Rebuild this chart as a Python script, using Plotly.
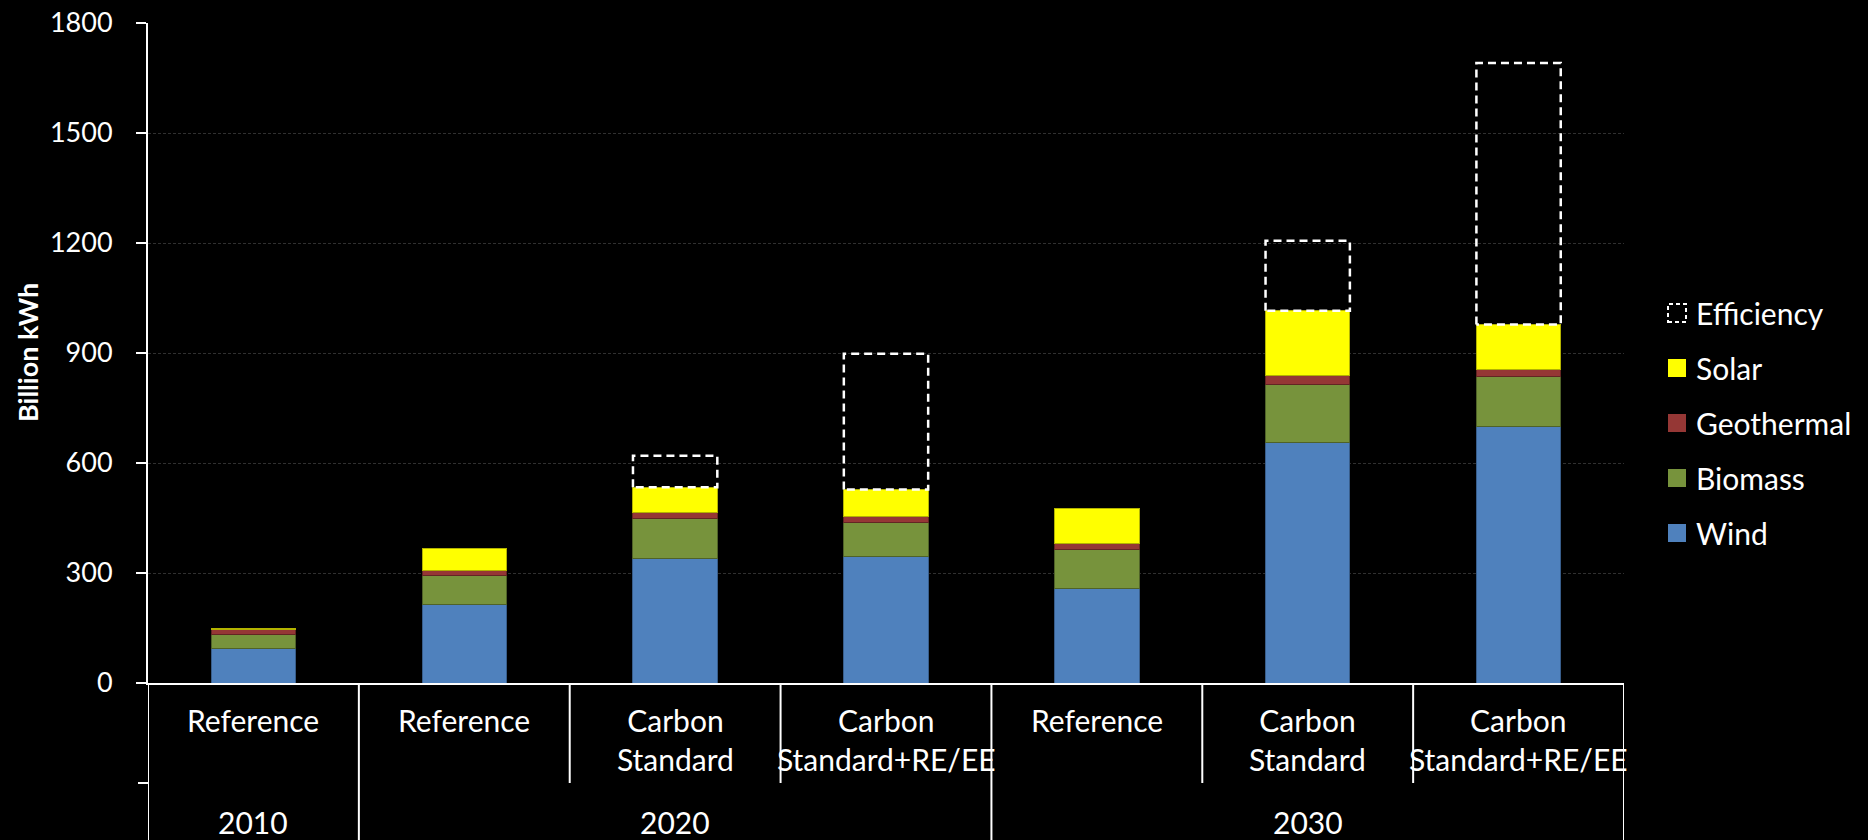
import numpy as np
import plotly.graph_objects as go

# Scenario categories (two-level: scenario within year)
scenarios = ["Reference", "Reference", "Carbon<br>Standard", "Carbon<br>Standard+RE/EE",
             "Reference", "Carbon<br>Standard", "Carbon<br>Standard+RE/EE"]
years = ["2010", "2020", "2030"]
year_groups = [[0], [1, 2, 3], [4, 5, 6]]

# Generation by source, billion kWh
wind = [94, 215, 340, 344, 258, 655, 699]
biomass = [37, 78, 108, 93, 105, 159, 136]
geothermal = [14, 15, 18, 17, 17, 24, 20]
solar = [4, 59, 68, 74, 97, 177, 123]
efficiency = [0, 0, 86, 370, 0, 191, 713]

y_ticks = [0, 300, 600, 900, 1200, 1500, 1800]

series = [
    ("Wind", wind, "#4F81BD", "#385D8A"),
    ("Biomass", biomass, "#77933C", "#4F6228"),
    ("Geothermal", geothermal, "#953735", "#632523"),
    ("Solar", solar, "#FFFF00", "#B3B300"),
]

FONT = "Lato"
W, H = 1868, 840
PLOT_L, PLOT_R, PLOT_T, PLOT_B = 148, 1624, 23, 683
BAR_W = 0.4


def px_x(px):
    return (px - PLOT_L) / (PLOT_R - PLOT_L)


def px_y(py):
    return (PLOT_B - py) / (PLOT_B - PLOT_T)


idx = np.arange(len(scenarios))
fig = go.Figure()

for name, vals, color, edge in series:
    fig.add_trace(go.Bar(
        x=idx, y=vals, name=name, width=BAR_W,
        marker=dict(color=color, line=dict(color=edge, width=1)),
        showlegend=False,
    ))

# Efficiency savings drawn as dashed outlines stacked on top of the supply bars
supply_total = np.sum([wind, biomass, geothermal, solar], axis=0)
ex, ey = [], []
for i, (base, eff) in enumerate(zip(supply_total, efficiency)):
    if eff <= 0:
        continue
    x0, x1 = i - BAR_W / 2, i + BAR_W / 2
    top = base + eff
    ex += [x0, x0, x1, x1, x0, None]
    ey += [base, top, top, base, base, None]
fig.add_trace(go.Scatter(
    x=ex, y=ey, mode="lines", name="Efficiency",
    line=dict(color="white", width=2.5, dash="8px,5px"),
    showlegend=False, hoverinfo="skip",
))

shapes = []
annotations = []

# Category axis separators: short between scenarios, full-height between year groups
group_edges = {-0.5, len(scenarios) - 0.5}
for g in year_groups:
    group_edges.add(g[0] - 0.5)
    group_edges.add(g[-1] + 0.5)
for b in np.arange(-0.5, len(scenarios), 1.0):
    y_end = px_y(H) if b in group_edges else px_y(783)
    shapes.append(dict(type="line", xref="x", yref="paper", x0=b, x1=b,
                       y0=0, y1=y_end, line=dict(color="white", width=2)))
shapes.append(dict(type="line", xref="paper", yref="paper", x0=px_x(138), x1=0,
                   y0=px_y(783), y1=px_y(783), line=dict(color="white", width=2)))

for i, label in enumerate(scenarios):
    annotations.append(dict(x=i, y=px_y(700), xref="x", yref="paper", text=label,
                            showarrow=False, xanchor="center", yanchor="top",
                            font=dict(family=FONT, size=30, color="white")))
for yr, g in zip(years, year_groups):
    annotations.append(dict(x=float(np.mean(g)), y=px_y(822), xref="x", yref="paper",
                            text=yr, showarrow=False, xanchor="center", yanchor="middle",
                            font=dict(family=FONT, size=30, color="white")))

# Legend (top entry first)
legend_rows = [("Efficiency", None, None)] + [(n, c, e) for n, _, c, e in reversed(series)]
for k, (name, color, _) in enumerate(legend_rows):
    yc = 313 + 55 * k
    rect = dict(type="rect", xref="paper", yref="paper",
                x0=px_x(1668), x1=px_x(1686), y0=px_y(yc + 9), y1=px_y(yc - 9))
    if color is None:
        rect.update(line=dict(color="white", width=2, dash="4px,3px"),
                    fillcolor="rgba(0,0,0,0)")
    else:
        rect.update(line=dict(width=0), fillcolor=color)
    shapes.append(rect)
    annotations.append(dict(x=px_x(1694), y=px_y(yc), xref="paper", yref="paper",
                            text=name, showarrow=False, xanchor="left", yanchor="middle",
                            font=dict(family=FONT, size=30, color="white")))

annotations.append(dict(x=px_x(27), y=px_y(353), xref="paper", yref="paper",
                        text="<b>Billion kWh</b>", textangle=-90, showarrow=False,
                        xanchor="center", yanchor="middle",
                        font=dict(family=FONT, size=27, color="white")))

fig.update_layout(
    width=W, height=H,
    barmode="stack",
    paper_bgcolor="black", plot_bgcolor="black",
    margin=dict(l=PLOT_L, r=W - PLOT_R, t=PLOT_T, b=H - PLOT_B, pad=0, autoexpand=False),
    shapes=shapes, annotations=annotations,
    showlegend=False,
    xaxis=dict(range=[-0.5, len(scenarios) - 0.5], showticklabels=False,
               showgrid=False, zeroline=False, showline=True, automargin=False,
               linecolor="white", linewidth=2, ticks=""),
    yaxis=dict(range=[0, 1800], tickvals=y_ticks, ticks="outside", ticklen=10,
               tickwidth=2, tickcolor="white", showline=True, linecolor="white",
               linewidth=2, showgrid=True, gridcolor="#303030", gridwidth=1,
               griddash="3px,2px", zeroline=False, ticklabelstandoff=18,
               automargin=False,
               tickfont=dict(family=FONT, size=27, color="white")),
)

fig.write_html("out.html")
